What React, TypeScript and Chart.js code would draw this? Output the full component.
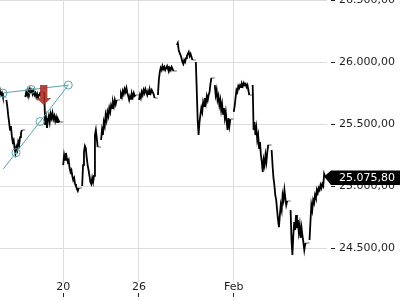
import React, { useEffect, useRef } from 'react';
import { Chart, registerables } from 'chart.js';

Chart.register(...registerables);

// Trading sessions (x = trading days relative to 20 Jan; 0 = 20, 4 = 26, 9 = Feb)
const sessionDays = [-4, -3, -2, -1, 0, 1, 2, 3, 4, 5, 6, 7, 8, 9, 10, 11, 12, 13];

// Intraday prices per session (evenly sampled)
const jan14 = [25758, 25774, 25734, 25766, 25742, 25782, 25750, 25726, 25758, 25734, 25710, 25750, 25726, 25742, 25766, 25734, 25750, 25718];
const jan15 = [25694, 25645, 25573, 25516, 25452, 25484, 25403, 25355, 25371, 25306, 25266, 25315, 25290, 25355, 25331, 25395, 25427, 25452];
const jan16 = [25718, 25758, 25734, 25774, 25750, 25782, 25758, 25774, 25742, 25766, 25734, 25750, 25718, 25742, 25710, 25734, 25750, 25758];
const jan19 = [25758, 25492, 25548, 25468, 25532, 25565, 25516, 25581, 25548, 25589, 25540, 25565, 25524, 25556, 25516, 25540, 25524, 25516];
const jan20 = [25169, 25250, 25210, 25266, 25226, 25194, 25210, 25145, 25113, 25129, 25081, 25048, 25065, 25016, 25000, 24976, 24960, 24984];
const jan21 = [25000, 25169, 25274, 25323, 25306, 25226, 25169, 25129, 25081, 25032, 25016, 25065, 25032, 25081, 25411, 25452, 25387, 25315];
const jan22 = [25371, 25452, 25411, 25516, 25484, 25573, 25532, 25597, 25565, 25629, 25597, 25653, 25629, 25677, 25645, 25694, 25661, 25694];
const jan23 = [25710, 25742, 25718, 25766, 25742, 25782, 25758, 25790, 25750, 25726, 25694, 25726, 25702, 25742, 25718, 25750, 25726, 25734];
const jan26 = [25694, 25734, 25710, 25758, 25734, 25774, 25750, 25782, 25758, 25734, 25766, 25742, 25774, 25750, 25774, 25758, 25742, 25710];
const jan27 = [25734, 25855, 25919, 25952, 25935, 25968, 25944, 25960, 25935, 25952, 25968, 25944, 25927, 25952, 25935, 25960, 25944, 25927];
const jan28 = [26137, 26153, 26097, 26073, 26056, 26032, 26000, 25984, 26016, 26000, 26032, 26048, 26065, 26081, 26048, 26065, 26040, 26016];
const jan29 = [26000, 25774, 25532, 25411, 25516, 25573, 25629, 25597, 25677, 25645, 25710, 25669, 25726, 25694, 25734, 25758, 25823, 25871];
const jan30 = [25814, 25734, 25774, 25694, 25726, 25653, 25694, 25613, 25661, 25581, 25629, 25548, 25597, 25516, 25452, 25548, 25484, 25540];
const feb02 = [25597, 25645, 25710, 25774, 25758, 25806, 25790, 25814, 25798, 25823, 25806, 25831, 25814, 25823, 25798, 25814, 25774, 25734];
const feb03 = [25814, 25452, 25516, 25411, 25468, 25371, 25411, 25306, 25355, 25250, 25194, 25113, 25210, 25169, 25250, 25194, 25274, 25331];
const feb04 = [25290, 25169, 25065, 25008, 24927, 24887, 24806, 24726, 24669, 24766, 24847, 24806, 24927, 24887, 24968, 24903, 24847, 24879];
const feb05 = [24806, 24565, 24444, 24605, 24710, 24645, 24766, 24661, 24726, 24629, 24685, 24581, 24661, 24597, 24548, 24484, 24532, 24540];
const feb06 = [24565, 24710, 24847, 24806, 24887, 24863, 24927, 24903, 24968, 24944, 24984, 24968, 25008, 24984, 25016, 25000, 25097, 25075.8];

const sessions = [jan14, jan15, jan16, jan19, jan20, jan21, jan22, jan23, jan26, jan27, jan28, jan29, jan30, feb02, feb03, feb04, feb05, feb06];

// sampling interval (fraction of a trading day) and session length incl. after-hours
const SAMPLE_STEP = 0.82 / 17;
const DAY_LEN = 1;

// X axis
const xMin = -3.335;
const xMax = 13.923;
const xTickValues = [0, 4, 9];
const xTickLabels = ['20', '26', 'Feb'];

// Y axis
const yMin = 24226;
const yMax = 26500;
const yTickValues = [24500, 25000, 25500, 26000, 26500];

// Drawing tool (trend lines with anchor points)
const trendTopX = [-3.18, 0.27];
const trendTopY = [25750, 25814];
const trendDiagX = [0.27, -3.16];
const trendDiagY = [25814, 25137];
const anchorX = [-3.18, -1.69, 0.27, -1.22, -2.49];
const anchorY = [25750, 25778, 25814, 25520, 25269];

// Sell signal arrow (tip position)
const signalX = -1.03;
const signalPrice = 25653;

const fmt = (v: number) => {
  const s = Math.abs(v).toFixed(2);
  const [i, d] = s.split('.');
  return (v < 0 ? '-' : '') + i.replace(/\B(?=(\d{3})+(?!\d))/g, '.') + ',' + d;
};

const overlayPlugin = {
  id: 'overlay',
  afterDatasetsDraw(chart: any) {
    const { ctx, scales } = chart;
    const ax = scales.x.getPixelForValue(signalX);
    const ay = scales.y.getPixelForValue(signalPrice);
    ctx.save();
    ctx.fillStyle = 'rgba(170,44,38,0.88)';
    ctx.beginPath();
    ctx.moveTo(ax - 3.7, ay - 20);
    ctx.lineTo(ax + 3.7, ay - 20);
    ctx.lineTo(ax + 3.7, ay - 7);
    ctx.lineTo(ax + 7.4, ay - 7);
    ctx.lineTo(ax, ay);
    ctx.lineTo(ax - 7.4, ay - 7);
    ctx.lineTo(ax - 3.7, ay - 7);
    ctx.closePath();
    ctx.fill();
    ctx.restore();
  },
  afterDraw(chart: any) {
    const { ctx, scales, chartArea } = chart;
    const last = feb06[feb06.length - 1];
    const yy = scales.y.getPixelForValue(last);
    const left = chartArea.right;
    ctx.save();
    ctx.fillStyle = '#000';
    ctx.beginPath();
    ctx.moveTo(left - 3, yy);
    ctx.lineTo(left + 4, yy - 6);
    ctx.lineTo(chart.width, yy - 6);
    ctx.lineTo(chart.width, yy + 8.5);
    ctx.lineTo(left + 4, yy + 8.5);
    ctx.closePath();
    ctx.fill();
    ctx.fillStyle = '#fff';
    ctx.font = "11px 'DejaVu Sans'";
    ctx.textBaseline = 'middle';
    ctx.textAlign = 'left';
    ctx.fillText(fmt(last), left + 12, yy + 2);
    ctx.restore();
  },
};

export default function App() {
  const ref = useRef<HTMLCanvasElement>(null);
  useEffect(() => {
    document.body.style.margin = '0';
    Chart.defaults.font.family = "'DejaVu Sans', sans-serif";
    Chart.defaults.font.size = 11;
    Chart.defaults.color = '#1f1f1f';

    const black: any[] = [];
    const gray: any[] = [];
    sessions.forEach((prices, s) => {
      const d0 = sessionDays[s];
      prices.forEach((p, i) => black.push({ x: d0 + i * SAMPLE_STEP, y: p }));
      const tEnd = d0 + (prices.length - 1) * SAMPLE_STEP;
      black.push({ x: tEnd + 0.001, y: null });
      const close = prices[prices.length - 1];
      gray.push({ x: tEnd, y: close }, { x: d0 + DAY_LEN, y: close }, { x: d0 + DAY_LEN + 0.001, y: null });
    });

    const buildX = (scale: any) => {
      scale.ticks = xTickValues.map((v) => ({ value: v }));
    };

    const chart = new Chart(ref.current!, {
      type: 'line',
      data: {
        datasets: [
          {
            data: anchorX.map((x, i) => ({ x, y: anchorY[i] })),
            showLine: false,
            pointRadius: 4,
            pointHoverRadius: 4,
            pointBorderWidth: 1,
            pointBorderColor: '#5aa3aa',
            pointBackgroundColor: 'rgba(255,255,255,0)',
          },
          {
            data: trendTopX.map((x, i) => ({ x, y: trendTopY[i] })),
            borderColor: '#5aa3aa',
            borderWidth: 1,
            pointRadius: 0,
          },
          {
            data: trendDiagX.map((x, i) => ({ x, y: trendDiagY[i] })),
            borderColor: '#5aa3aa',
            borderWidth: 1,
            pointRadius: 0,
          },
          {
            data: black,
            borderColor: '#000',
            borderWidth: 1.8,
            pointRadius: 0,
            tension: 0,
            spanGaps: false,
          },
          {
            data: gray,
            borderColor: '#9a9a9a',
            borderWidth: 1.5,
            pointRadius: 0,
            spanGaps: false,
          },
        ],
      },
      options: {
        animation: false,
        responsive: false,
        devicePixelRatio: 1,
        layout: { autoPadding: false, padding: { left: 0, top: 0, right: 1, bottom: 3 } },
        plugins: { legend: { display: false }, tooltip: { enabled: false } },
        scales: {
          x: {
            type: 'linear',
            position: 'bottom',
            min: xMin,
            max: xMax,
            afterBuildTicks: buildX,
            ticks: {
              autoSkip: false,
              maxRotation: 0,
              padding: 0,
              font: { size: 11, lineHeight: 1 },
              callback: (v: any) => {
                const i = xTickValues.indexOf(Number(v));
                return i >= 0 ? xTickLabels[i] : '';
              },
            },
            grid: {
              color: '#dddddd',
              drawTicks: false,
            },
            border: { display: false },
          },
          x2: {
            type: 'linear',
            position: 'bottom',
            min: xMin,
            max: xMax,
            afterBuildTicks: buildX,
            ticks: { display: false },
            grid: {
              drawOnChartArea: false,
              drawTicks: true,
              tickLength: 4,
              tickColor: '#222',
              tickWidth: 1,
            },
            border: { display: false },
          },
          y: {
            type: 'linear',
            position: 'right',
            min: yMin,
            max: yMax,
            afterFit: (scale: any) => {
              scale.paddingTop = 0;
              scale.paddingBottom = 0;
            },
            afterBuildTicks: (scale: any) => {
              scale.ticks = yTickValues.map((v) => ({ value: v }));
            },
            ticks: {
              padding: 4,
              callback: (v: any) => fmt(Number(v)),
            },
            grid: {
              color: '#dddddd',
              tickLength: 8,
              tickColor: '#222',
              tickWidth: 1,
              tickBorderDash: [0, 4, 4, 20],
            },
            border: { display: false },
          },
        },
      } as any,
      plugins: [overlayPlugin],
    });
    return () => chart.destroy();
  }, []);
  return (
    <div style={{ width: 400, height: 300 }}>
      <canvas ref={ref} width={400} height={300} style={{ display: 'block' }} />
    </div>
  );
}
